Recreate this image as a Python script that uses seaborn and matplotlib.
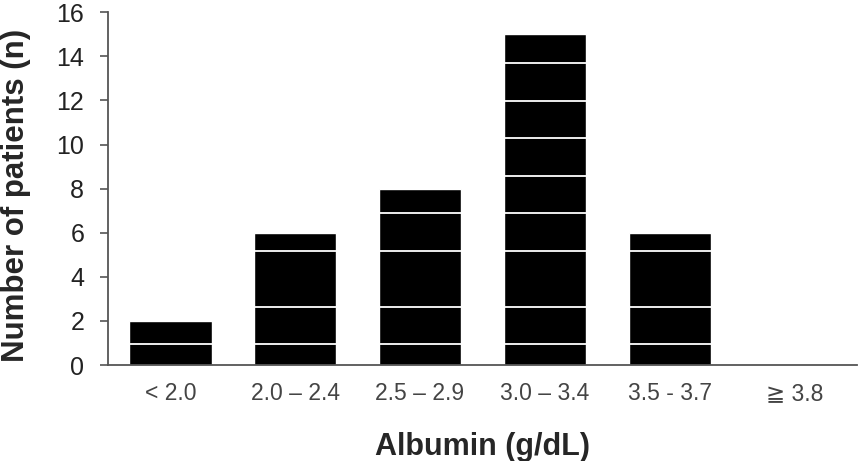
import matplotlib
matplotlib.use("Agg")
import matplotlib.pyplot as plt
import seaborn as sns
import pandas as pd

# ---- data ----
categories = ["< 2.0", "2.0 – 2.4", "2.5 – 2.9", "3.0 – 3.4", "3.5 - 3.7", "≧ 3.8"]
patients = [2, 6, 8, 15, 6, 0]
y_ticks = [0, 2, 4, 6, 8, 10, 12, 14, 16]
# thin white scan streaks crossing the bars (in data units)
scan_lines = [0.94, 2.64, 5.17, 6.88, 8.57, 10.28, 11.97, 13.68]

df = pd.DataFrame({"Albumin": categories, "Patients": patients})

sns.set_style("white")
plt.rcParams["font.family"] = ["Liberation Sans", "DejaVu Sans"]

fig = plt.figure(figsize=(8.68, 4.61), dpi=100)
ax = fig.add_axes([0.1244, 0.2082, 0.8629, 0.7651])

sns.barplot(data=df, x="Albumin", y="Patients", order=categories,
            color="black", saturation=1, width=0.66, ax=ax)

for v in scan_lines:
    ax.axhline(v, color="white", lw=1.3, zorder=2)

ax.set_xlim(-0.5, 5.5)
ax.set_ylim(0, 16)
ax.set_yticks(y_ticks)
ax.set_yticklabels([str(t) for t in y_ticks], fontsize=18, color="#222222")
ax.set_xticks(range(len(categories)))
ax.set_xticklabels(categories, fontsize=16.5, color="#444444",
                   family=["Liberation Sans", "DejaVu Sans"])

ax.tick_params(axis="y", direction="out", length=6, width=1.2,
               color="#555555", pad=11, left=True)
ax.tick_params(axis="x", length=0, pad=12)

for s in ["top", "right"]:
    ax.spines[s].set_visible(False)
for s in ["left", "bottom"]:
    ax.spines[s].set_color("#555555")
    ax.spines[s].set_linewidth(1.3)

ax.set_xlabel("Albumin (g/dL)", fontsize=22, fontweight="bold", labelpad=20)
ax.set_ylabel("Number of patients (n)", fontsize=22.5, fontweight="bold")
ax.yaxis.set_label_coords(-0.103, 0.48)

fig.savefig("out.png", dpi=100)
